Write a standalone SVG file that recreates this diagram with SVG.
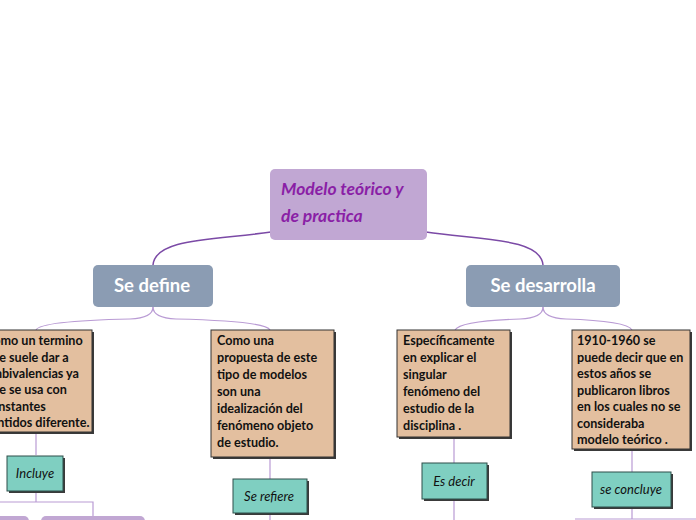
<svg xmlns="http://www.w3.org/2000/svg" width="696" height="520" viewBox="0 0 696 520">
<style>
.root{fill:#c1a7d3}
.title{font-family:Lato,"Liberation Sans",sans-serif;font-style:italic;font-weight:bold;font-size:17.5px;fill:#8a1fa6}
.main{fill:#8b9cb3}
.mtext{font-family:Lato,"Liberation Sans",sans-serif;font-weight:bold;font-size:18.5px;fill:#ffffff;text-anchor:middle}
.note{fill:#e3bf9f;stroke:#333;stroke-width:1}
.shadow{fill:#3a3a3a}
.ntext{font-family:Lato,"Liberation Sans",sans-serif;font-weight:bold;font-size:12.6px;fill:#111}
.teal{fill:#7fcfc1;stroke:#2f4f4a;stroke-width:1}
.ttext{font-family:Lato,"Liberation Sans",sans-serif;font-style:italic;font-size:13px;fill:#111;text-anchor:middle}
.sub{fill:#c1a7d3}
.c1{fill:none;stroke:#7b4aa6;stroke-width:1.5}
.c2{fill:none;stroke:#b99bd4;stroke-width:1.2}
</style>
<g id="connectors">
<path class="c1" d="M271,232 C215,240 155,238 153,265"/>
<path class="c1" d="M426,232 C480,240 541,238 543,265"/>
<path class="c2" d="M153,307 Q153,318 130,319 Q40,321 36,330"/>
<path class="c2" d="M153,307 Q153,318 176,319 Q265,321 270,330"/>
<path class="c2" d="M543,307 Q543,318 520,319 Q460,321 455,330"/>
<path class="c2" d="M543,307 Q543,318 566,319 Q627,321 632,330"/>
<path class="c2" d="M36,432 V455"/>
<path class="c2" d="M36,491 V502 M0,502 H93 V516"/>
<path class="c2" d="M270,457 V479 M270,513 V520"/>
<path class="c2" d="M454,437 V463 M454,499 V520"/>
<path class="c2" d="M632,449 V472 M632,507 V519 M575,519 H696"/>
</g>
<g id="root">
<rect class="root" x="270" y="169" width="157" height="71" rx="5"/>
<text class="title" x="281" y="195">Modelo teórico y</text>
<text class="title" x="281" y="222">de practica</text>
</g>
<g id="se-define">
<rect class="main" x="93" y="265" width="120" height="42" rx="5"/>
<text class="mtext" x="152" y="292">Se define</text>
</g>
<g id="se-desarrolla">
<rect class="main" x="466" y="265" width="154" height="42" rx="5"/>
<text class="mtext" x="543" y="292">Se desarrolla</text>
</g>
<g id="note1">
<rect class="shadow" x="-18" y="332" width="112" height="102"/>
<rect class="note" x="-20" y="330" width="112" height="102"/>
<text class="ntext"><tspan x="-15" y="345">Como un termino</tspan><tspan x="-15" y="361.5">que suele dar a</tspan><tspan x="-15" y="378">ambivalencias ya</tspan><tspan x="-15" y="394">que se usa con</tspan><tspan x="-15" y="410.5">constantes</tspan><tspan x="-15" y="427">sentidos diferente.</tspan></text>
</g>
<g id="note2">
<rect class="shadow" x="213" y="332" width="123" height="127"/>
<rect class="note" x="211" y="330" width="123" height="127"/>
<text class="ntext"><tspan x="217" y="345">Como una</tspan><tspan x="217" y="362">propuesta de este</tspan><tspan x="217" y="379">tipo de modelos</tspan><tspan x="217" y="396">son una</tspan><tspan x="217" y="413">idealización del</tspan><tspan x="217" y="430">fenómeno objeto</tspan><tspan x="217" y="447">de estudio.</tspan></text>
</g>
<g id="note3">
<rect class="shadow" x="399" y="332" width="113" height="107"/>
<rect class="note" x="397" y="330" width="113" height="107"/>
<text class="ntext"><tspan x="403" y="345">Específicamente</tspan><tspan x="403" y="362">en explicar el</tspan><tspan x="403" y="379">singular</tspan><tspan x="403" y="396">fenómeno del</tspan><tspan x="403" y="413">estudio de la</tspan><tspan x="403" y="430">disciplina .</tspan></text>
</g>
<g id="note4">
<rect class="shadow" x="574" y="332" width="118" height="119"/>
<rect class="note" x="572" y="330" width="118" height="119"/>
<text class="ntext"><tspan x="577" y="345">1910-1960 se</tspan><tspan x="577" y="361.5">puede decir que en</tspan><tspan x="577" y="378">estos años se</tspan><tspan x="577" y="394.5">publicaron libros</tspan><tspan x="577" y="411">en los cuales no se</tspan><tspan x="577" y="427.5">consideraba</tspan><tspan x="577" y="444">modelo teórico .</tspan></text>
</g>
<g id="incluye">
<rect class="shadow" x="9" y="458" width="56" height="35"/>
<rect class="teal" x="7" y="456" width="56" height="35"/>
<text class="ttext" x="35" y="478">Incluye</text>
</g>
<g id="se-refiere">
<rect class="shadow" x="235" y="481" width="74" height="34"/>
<rect class="teal" x="233" y="479" width="74" height="34"/>
<text class="ttext" x="269" y="501">Se refiere</text>
</g>
<g id="es-decir">
<rect class="shadow" x="424" y="465" width="65" height="36"/>
<rect class="teal" x="422" y="463" width="65" height="36"/>
<text class="ttext" x="454" y="486">Es decir</text>
</g>
<g id="se-concluye">
<rect class="shadow" x="594" y="474" width="79" height="35"/>
<rect class="teal" x="592" y="472" width="79" height="35"/>
<text class="ttext" x="631" y="494">se concluye</text>
</g>
<g id="sub1">
<rect class="sub" x="-20" y="516" width="49" height="20" rx="5"/>
</g>
<g id="sub2">
<rect class="sub" x="41" y="516" width="104" height="20" rx="5"/>
</g>
</svg>
